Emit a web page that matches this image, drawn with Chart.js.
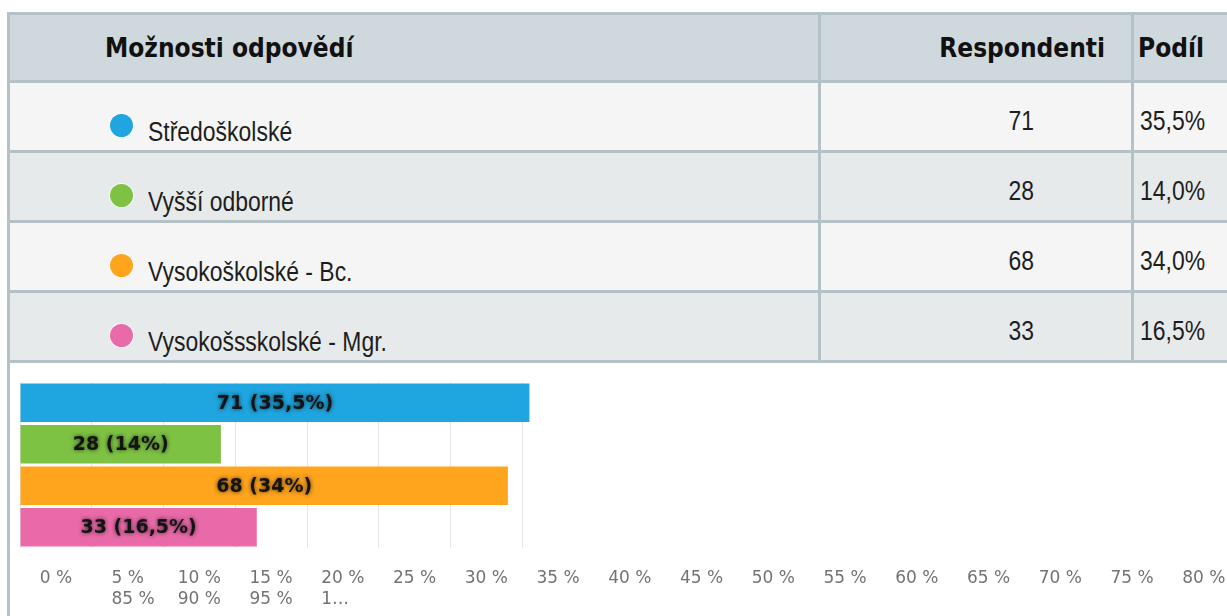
<!DOCTYPE html>
<html lang="cs">
<head>
  <meta charset="UTF-8">
  <title>Možnosti odpovědí</title>
  <script src="https://cdn.jsdelivr.net/npm/chart.js"></script>
  <style>
    html, body {
      margin: 0;
      padding: 0;
      background: #fff;
      width: 1227px;
      height: 616px;
      overflow: hidden;
    }
    .frame {
      position: absolute;
      left: 7px;
      top: 12px;
      width: 1500px;
      height: 640px;
      border-left: 3px solid #b4c2c7;
    }
    table {
      border-collapse: separate;
      border-spacing: 0;
      table-layout: fixed;
      width: 1420px;
      border-top: 3px solid #b4c2c7;
    }
    th, td {
      box-sizing: border-box;
      border-right: 3px solid #b4c2c7;
      border-bottom: 3px solid #b4c2c7;
      padding: 0;
      position: relative;
    }
    th {
      height: 68px;
      background: #cfd8dc;
      font-family: "DejaVu Sans Condensed", "DejaVu Sans", sans-serif;
      font-stretch: condensed;
      font-weight: bold;
      font-size: 26px;
      color: #111;
      text-align: left;
    }
    th.c1 { width: 811px; padding-left: 95px; }
    th.c2 { width: 313px; text-align: right; padding-right: 26px; }
    th.c3 { padding-left: 4px; }
    td {
      height: 70px;
      font-family: "Liberation Sans", Arial, sans-serif;
      font-size: 27px;
      color: #1e1e1e;
      background: #f5f5f5;
    }
    tr:nth-child(even) td { background: #e7eaeb; }
    /* the text in the rows is narrow: squeeze Liberation Sans sideways */
    td span {
      position: absolute;
      white-space: nowrap;
      line-height: 31px;
      transform: scaleX(0.85);
      transform-origin: left center;
    }
    .dot {
      position: absolute;
      left: 100px;
      top: 31px;
      width: 23px;
      height: 23px;
      border-radius: 50%;
      box-shadow: 0 0 0 1px rgba(255,255,255,0.8);
    }
    .name { left: 138px; top: 34px; }
    .num { right: 97px; top: 23px; transform-origin: right center; }
    .pct { left: 6px; top: 23px; }
    .chartbox {
      position: absolute;
      left: 0;
      top: 351px;
      width: 1490px;
      height: 253px;
    }
  </style>
</head>
<body>
  <div class="frame">
    <table>
      <thead>
        <tr>
          <th class="c1">Možnosti odpovědí</th>
          <th class="c2">Respondenti</th>
          <th class="c3">Podíl</th>
        </tr>
      </thead>
      <tbody id="rows"></tbody>
    </table>
    <div class="chartbox"><canvas id="chart"></canvas></div>
  </div>

  <script>
    const categories = ['Středoškolské', 'Vyšší odborné', 'Vysokoškolské - Bc.', 'Vysokošsskolské - Mgr.'];
    const respondents = [71, 28, 68, 33];
    const shares = [35.5, 14.0, 34.0, 16.5];
    const barColors = ['#1fa5df', '#7dc243', '#ffa41d', '#e96aa8'];
    const xTickLabels = ['0 %', '5 %', '10 %', '15 %', '20 %', '25 %', '30 %', '35 %', '40 %', '45 %',
      '50 %', '55 %', '60 %', '65 %', '70 %', '75 %', '80 %', '85 %', '90 %', '95 %', '1…'];

    // table share "35,5%" and bar label share "35,5%" / "14%"
    const fmtLong = v => v.toFixed(1).replace('.', ',') + '%';
    const fmtShort = v => (Number.isInteger(v) ? String(v) : v.toFixed(1).replace('.', ',')) + '%';

    const tbody = document.getElementById('rows');
    categories.forEach((name, i) => {
      tbody.innerHTML += `<tr>
        <td><div class="dot" style="background:${barColors[i]}"></div><span class="name">${name}</span></td>
        <td><span class="num">${respondents[i]}</span></td>
        <td><span class="pct">${fmtLong(shares[i])}</span></td>
      </tr>`;
    });

    const barLabels = {
      id: 'barLabels',
      afterDatasetsDraw(chart) {
        const c = chart.ctx;
        const meta = chart.getDatasetMeta(0);
        c.save();
        c.font = 'bold 19px "DejaVu Sans"';
        c.textAlign = 'center';
        c.textBaseline = 'middle';
        c.fillStyle = '#141414';
        c.shadowColor = 'rgba(0,0,0,0.7)';
        c.shadowBlur = 4;
        meta.data.forEach((bar, i) => {
          c.fillText(`${respondents[i]} (${fmtShort(shares[i])})`, (bar.x + bar.base) / 2, bar.y + 1);
        });
        c.restore();
      }
    };

    // tick labels sit between grid lines and wrap to a second line at the window edge
    const wrappedTicks = {
      id: 'wrappedTicks',
      afterDraw(chart) {
        const scale = chart.scales.x;
        const c = chart.ctx;
        const base = scale.getPixelForValue(scale.ticks[0].value);
        const step = scale.getPixelForValue(scale.ticks[1].value) - base;
        const limit = document.documentElement.clientWidth - chart.canvas.getBoundingClientRect().left;
        const starts = [];
        let row = 0, col = 0;
        c.save();
        c.font = '17px "DejaVu Sans"';
        c.fillStyle = '#737373';
        c.textBaseline = 'alphabetic';
        scale.ticks.forEach(t => {
          const w = c.measureText(t.label).width;
          const center = base + step * (col + 0.5);
          if (row === 0 && center > limit) { row = 1; col = 1; }
          let left;
          if (row === 0) { left = center - w / 2; starts[col] = left; }
          else left = starts[col];
          c.fillText(t.label, left, chart.chartArea.bottom + 35 + row * 21);
          col++;
        });
        c.restore();
      }
    };

    const maxShare = Math.max(...shares);

    new Chart(document.getElementById('chart'), {
      type: 'bar',
      data: {
        labels: categories,
        datasets: [{
          data: shares,
          backgroundColor: barColors,
          borderWidth: 0,
          barPercentage: 0.93,
          categoryPercentage: 1
        }]
      },
      options: {
        indexAxis: 'y',
        responsive: true,
        maintainAspectRatio: false,
        animation: false,
        layout: { padding: { left: 10, right: 45, top: 19, bottom: 68 } },
        plugins: {
          legend: { display: false },
          tooltip: { enabled: false }
        },
        scales: {
          x: {
            min: 0,
            max: 100,
            ticks: { stepSize: 5, display: false, callback: (v, i) => xTickLabels[i] },
            // grid only shows up to the longest bar
            grid: {
              color: ctx => ctx.tick && ctx.tick.value <= maxShare ? '#e8e4e6' : 'rgba(0,0,0,0)',
              drawTicks: false
            },
            border: { display: false }
          },
          y: { display: false }
        }
      },
      plugins: [barLabels, wrappedTicks]
    });
  </script>
</body>
</html>
